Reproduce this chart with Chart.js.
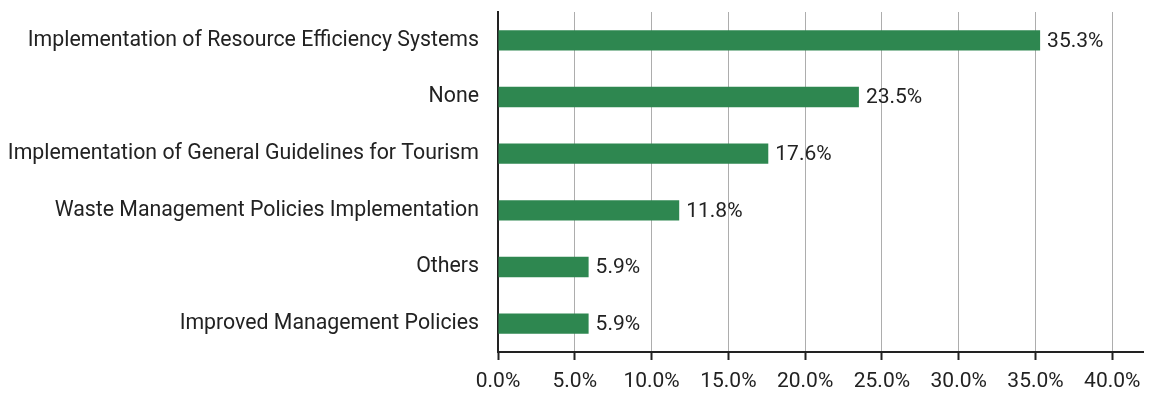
<!DOCTYPE html>
<html>
<head>
<meta charset="utf-8">
<script src="https://cdn.jsdelivr.net/npm/chart.js@4/dist/chart.umd.min.js"></script>
<style>
  html, body { margin: 0; padding: 0; background: #fff; }
</style>
</head>
<body>
<canvas id="policyChart" width="1153" height="394"></canvas>
<script>
const categories = [
  "Implementation of Resource Efficiency Systems",
  "None",
  "Implementation of General Guidelines for Tourism",
  "Waste Management Policies Implementation",
  "Others",
  "Improved Management Policies"
];
const shares = [35.3, 23.5, 17.6, 11.8, 5.9, 5.9];
const tickValues = [0, 5, 10, 15, 20, 25, 30, 35, 40];

const ink = "#222222";
const font = { family: "Roboto", size: 21 };

// value text just past the end of each bar
const valueLabels = {
  id: "valueLabels",
  afterDatasetsDraw(chart) {
    const ctx = chart.ctx;
    const meta = chart.getDatasetMeta(0);
    ctx.save();
    ctx.font = "21px Roboto";
    ctx.fillStyle = ink;
    ctx.textAlign = "left";
    ctx.textBaseline = "middle";
    meta.data.forEach((bar, i) => {
      ctx.fillText(shares[i].toFixed(1) + "%", bar.x + 7, bar.y + 1);
    });
    ctx.restore();
  }
};

new Chart(document.getElementById("policyChart"), {
  type: "bar",
  data: {
    labels: categories,
    datasets: [{
      data: shares,
      backgroundColor: "#2e8750",
      barPercentage: 0.36,
      categoryPercentage: 1
    }]
  },
  options: {
    indexAxis: "y",
    responsive: false,
    animation: false,
    layout: { padding: { top: 12, right: 10, left: 0, bottom: 0 } },
    plugins: {
      legend: { display: false },
      tooltip: { enabled: false }
    },
    scales: {
      x: {
        min: 0,
        max: 42,
        afterBuildTicks(scale) {
          scale.ticks = tickValues.map(v => ({ value: v }));
        },
        afterFit(scale) { scale.height = 42; },
        grid: {
          color: "#adadad",
          lineWidth: 1,
          tickColor: ink,
          tickWidth: 2,
          tickLength: 8
        },
        border: { color: ink, width: 2 },
        ticks: {
          color: ink,
          font: font,
          padding: 9,
          callback: v => Number(v).toFixed(1) + "%"
        }
      },
      y: {
        afterFit(scale) {
          scale.width = 498;
          scale.paddingTop = 0;
          scale.paddingBottom = 0;
        },
        grid: {
          drawOnChartArea: false,
          tickLength: 11,
          tickWidth: 2,
          tickColor: ctx => ctx.index === categories.length ? ink : "rgba(0,0,0,0)"
        },
        border: { color: ink, width: 2 },
        ticks: {
          color: ink,
          font: { family: "Roboto", size: 21.3 },
          padding: 8
        }
      }
    }
  },
  plugins: [valueLabels]
});
</script>
</body>
</html>
